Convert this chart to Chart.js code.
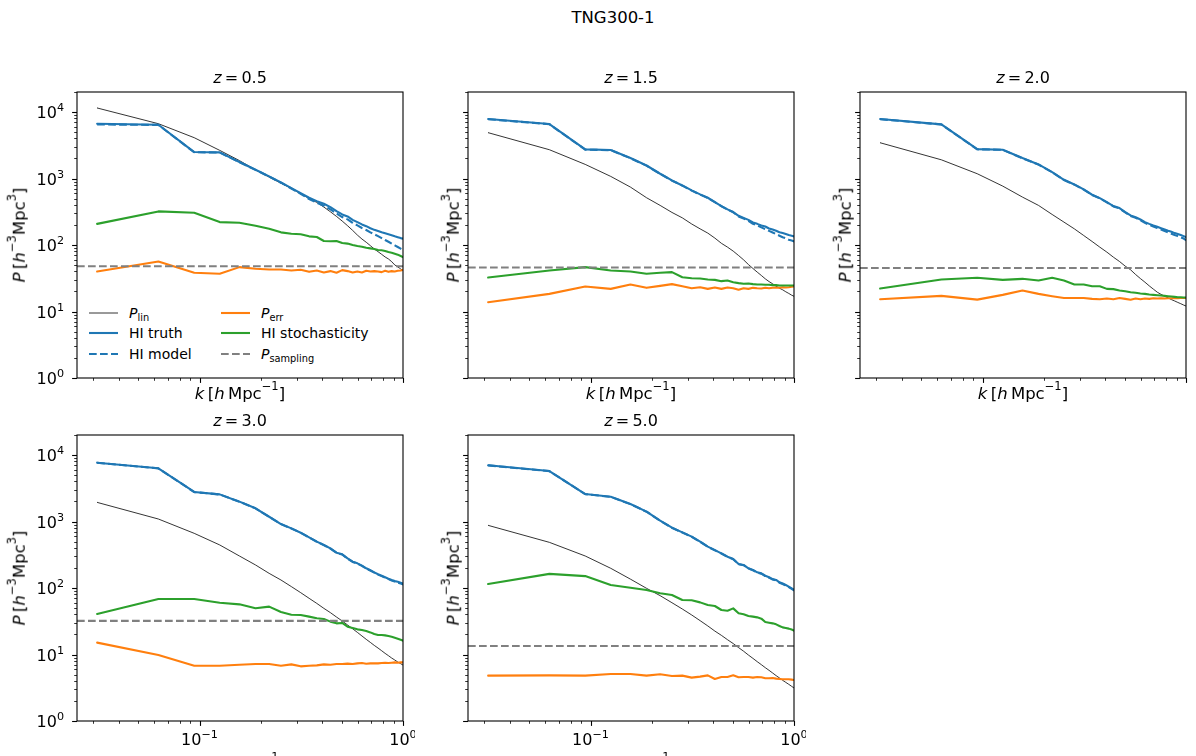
<!DOCTYPE html>
<html>
<head>
<meta charset="utf-8">
<script src="https://cdn.jsdelivr.net/npm/chart.js@4.4.1/dist/chart.umd.min.js"></script>
<style>
  body { margin: 0; width: 1196px; height: 756px; overflow: hidden; background: #fff; position: relative;
         font-family: "DejaVu Sans", sans-serif; color: #000; }
  .box { position: absolute; }
  .t { position: absolute; white-space: nowrap; font-size: 16.5px; line-height: 1; transform: translate(-50%, -50%); }
  .t.rot { transform: translate(-50%, -50%) rotate(-90deg); }
  .t.ttl { font-size: 16px; }
  sup, sub { font-size: 70%; position: relative; vertical-align: baseline; line-height: 0; }
  sup { top: -0.75em; }
  sub { top: 0.3em; }
  .leg { position: absolute; height: 16px; display: flex; align-items: center; font-size: 14px; white-space: nowrap; }
  .leg svg { margin-right: 11px; }
</style>
</head>
<body>
<div class="t" style="left:613px;top:18px">TNG300-1</div>
<div id="legend"></div>
<script>
// wavenumbers (h/Mpc), shared by all panels
const k = [0.0314, 0.0628, 0.0942, 0.1257, 0.1571, 0.1885, 0.2199, 0.2513, 0.2827, 0.3142, 0.3456,
  0.3770, 0.4084, 0.4398, 0.4712, 0.5027, 0.5341, 0.5655, 0.5969, 0.6283, 0.6597, 0.6912,
  0.7226, 0.7540, 0.7854, 0.8168, 0.8482, 0.8796, 0.9111, 0.9425, 0.9739, 1.0053];
const kEdges = [0.025, 1];
const redshifts = ["0.5", "1.5", "2.0", "3.0", "5.0"];
const sampling = [48, 46, 45, 32, 13.4];
const yTicks = ["0", "1", "2", "3", "4"];
const xTicks = ["−1", "0"];

// z = 0.5
const lin05 = [11500, 6670, 4110, 2650, 1860, 1350, 1050, 851, 708, 589, 501, 437, 372, 316, 269, 229,
  195, 166, 141, 123, 110, 97.7, 87.1, 79.4, 72.4, 66.1, 61.7, 56.2, 50.1, 46.8, 43.7, 40.7];
const truth05 = [6670, 6440, 2500, 2470, 1770, 1355, 1076, 873, 718, 604, 513, 457, 417, 372, 324, 288,
  269, 239, 221, 204, 192, 179, 169, 162, 155, 150, 145, 140, 135, 131, 127, 124];
const model05 = [6500, 6400, 2480, 2460, 1760, 1350, 1070, 865, 708, 589, 490, 432, 389, 343, 299, 263,
  243, 216, 197, 180, 168, 155, 145, 136, 127, 119, 112, 105, 98.9, 93.3, 88.1, 83.2];
const err05 = [40.0, 56.5, 38.2, 36.9, 46.5, 43.9, 42.9, 42.9, 41.4, 42.4, 39.5, 41.4, 38.6, 40.5, 38.2, 41.9,
  40.5, 38.6, 40.0, 38.6, 40.9, 40.0, 40.5, 40.0, 39.1, 40.9, 39.5, 40.5, 40.0, 40.9, 41.4, 42.4];
const stoch05 = [208, 320, 305, 221, 216, 195, 176, 155, 148, 145, 135, 132, 115, 114, 115, 107,
  105, 100, 96.6, 94.4, 91.2, 89.1, 87.1, 84.1, 83.2, 81.3, 78.5, 76.7, 74.1, 71.6, 68.4, 65.3];

// z = 1.5
const lin15 = [4890, 2710, 1630, 1076, 743, 514, 394, 309, 256, 207, 175, 151, 127, 106, 92.9, 80.9,
  69.5, 59.8, 50.9, 44.4, 39.1, 34.8, 31.0, 28.2, 26.1, 24.0, 22.4, 21.2, 19.8, 18.7, 17.6, 16.8];
const truth15 = [7850, 6590, 2740, 2680, 2030, 1570, 1180, 935, 787, 662, 577, 514, 442, 385, 343, 313,
  275, 256, 239, 218, 208, 197, 190, 177, 171, 164, 156, 151, 146, 141, 138, 134];
const model15 = [7800, 6560, 2720, 2670, 2020, 1560, 1175, 930, 783, 658, 573, 510, 440, 383, 341, 311,
  269, 250, 231, 208, 197, 184, 173, 163, 154, 146, 138, 131, 126, 120, 117, 113];
const err15 = [13.8, 18.4, 23.8, 21.9, 25.5, 22.7, 24.3, 25.8, 24.0, 22.4, 23.2, 21.9, 23.0, 21.9, 23.0, 22.4,
  21.2, 22.4, 21.9, 22.7, 22.4, 22.2, 22.7, 22.4, 22.7, 23.0, 22.7, 23.2, 23.0, 23.2, 23.5, 23.8];
const stoch15 = [32.4, 41.4, 46.5, 41.4, 40.0, 36.9, 38.2, 39.1, 32.8, 31.7, 31.3, 30.3, 29.9, 28.6, 29.2, 27.6,
  26.7, 26.1, 26.4, 25.8, 25.5, 25.5, 25.2, 25.2, 24.9, 24.9, 24.6, 24.6, 24.6, 24.6, 24.6, 24.6];

// z = 2.0
const lin20 = [3450, 1910, 1180, 769, 526, 394, 288, 221, 175, 139, 113, 92.9, 78.2, 65.6, 56.5, 48.1,
  42.4, 36.0, 31.3, 27.6, 24.3, 21.7, 19.5, 18.1, 17.0, 16.0, 15.1, 14.4, 13.7, 13.1, 12.5, 12.0];
const truth20 = [7850, 6520, 2770, 2710, 2030, 1630, 1250, 957, 815, 685, 570, 507, 442, 385, 359, 313,
  279, 262, 242, 221, 208, 197, 188, 179, 171, 164, 158, 151, 146, 141, 136, 131];
const model20 = [7800, 6500, 2750, 2700, 2020, 1620, 1245, 950, 810, 680, 566, 503, 438, 381, 355, 309,
  274, 256, 236, 215, 201, 190, 180, 171, 162, 155, 148, 141, 136, 130, 125, 117];
const err20 = [15.3, 17.2, 15.1, 17.8, 20.7, 18.4, 17.0, 16.0, 16.0, 16.0, 15.5, 15.3, 15.7, 15.3, 16.0, 15.5,
  15.0, 15.7, 15.3, 15.7, 15.5, 15.8, 15.7, 15.8, 15.7, 15.8, 15.8, 16.0, 15.8, 16.0, 16.0, 16.0];
const stoch20 = [22.2, 30.3, 32.1, 29.9, 31.0, 29.2, 32.1, 29.2, 25.5, 25.5, 24.0, 24.0, 21.9, 21.7, 20.7, 20.2,
  19.5, 19.1, 18.7, 18.4, 18.0, 17.8, 17.6, 17.4, 17.2, 17.0, 16.8, 16.6, 16.4, 16.4, 16.2, 16.2];

// z = 3.0
const lin30 = [1940, 1090, 664, 444, 303, 222, 166, 132, 105, 85.1, 70.0, 58.7, 49.4, 42.6, 36.6, 31.9,
  27.8, 24.4, 21.5, 19.0, 16.9, 15.2, 13.7, 12.5, 11.4, 10.4, 9.6, 8.85, 8.26, 7.71, 7.28, 6.87];
const truth30 = [7670, 6310, 2780, 2560, 1990, 1580, 1180, 916, 789, 679, 578, 498, 444, 394, 340, 321,
  279, 249, 235, 217, 198, 185, 172, 161, 153, 145, 138, 132, 127, 124, 120, 116];
const model30 = [7650, 6300, 2770, 2550, 1985, 1575, 1178, 914, 787, 677, 576, 496, 442, 392, 338, 319,
  277, 247, 233, 215, 196, 183, 170, 159, 151, 143, 136, 130, 125, 121, 117, 113];
const err30 = [15.1, 9.84, 6.79, 6.79, 7.03, 7.19, 7.19, 6.79, 7.11, 6.64, 6.79, 6.87, 7.11, 7.03, 7.19, 7.19,
  7.28, 7.19, 7.36, 7.45, 7.28, 7.36, 7.36, 7.36, 7.45, 7.53, 7.45, 7.53, 7.62, 7.53, 7.62, 7.62];
const stoch30 = [40.6, 68.4, 68.4, 60.1, 56.8, 49.5, 52.5, 43.6, 39.7, 39.3, 37.1, 35.0, 34.2, 31.2, 29.4, 29.8,
  26.2, 25.1, 23.9, 23.3, 22.5, 21.5, 20.3, 19.6, 19.6, 19.4, 19.0, 18.5, 17.9, 17.3, 16.7, 16.1];

// z = 5.0
const lin50 = [875, 486, 303, 198, 136, 98.9, 76.7, 60.1, 48.3, 39.3, 32.3, 26.9, 22.5, 19.4, 16.7, 14.6,
  12.7, 11.2, 9.82, 8.75, 7.80, 7.03, 6.34, 5.78, 5.27, 4.81, 4.44, 4.09, 3.81, 3.56, 3.32, 3.10];
const truth50 = [7000, 5740, 2590, 2360, 1830, 1410, 1030, 807, 687, 592, 498, 419, 372, 332, 296, 273,
  230, 222, 198, 187, 172, 166, 153, 145, 136, 132, 122, 117, 111, 105, 98.9, 93.3];
const model50 = [6980, 5720, 2580, 2350, 1825, 1405, 1027, 805, 685, 590, 496, 417, 370, 330, 294, 271,
  228, 220, 196, 185, 170, 164, 151, 143, 134, 130, 120, 115, 109, 103, 97.0, 91.0];
const err50 = [4.81, 4.86, 4.81, 5.09, 5.09, 4.81, 5.04, 4.75, 4.81, 4.49, 4.65, 4.86, 4.29, 4.59, 4.59, 4.86,
  4.54, 4.59, 4.59, 4.49, 4.59, 4.54, 4.39, 4.39, 4.44, 4.34, 4.29, 4.24, 4.24, 4.24, 4.19, 4.13];
const stoch50 = [115, 163, 151, 111, 101, 93.3, 83.2, 78.5, 66.1, 65.3, 60.8, 55.5, 53.6, 46.7, 45.6, 49.4,
  41.6, 40.2, 37.9, 37.1, 36.2, 34.6, 30.8, 30.1, 29.4, 28.4, 26.9, 25.6, 25.1, 24.5, 23.7, 22.8];

const lins = [lin05, lin15, lin20, lin30, lin50];
const truths = [truth05, truth15, truth20, truth30, truth50];
const models = [model05, model15, model20, model30, model50];
const errs = [err05, err15, err20, err30, err50];
const stochs = [stoch05, stoch15, stoch20, stoch30, stoch50];

// layout (px)
const PW = 326, PH = 286;
const lefts = [77, 468, 860, 77, 468];
const tops = [92, 92, 92, 435, 435];
const PADL = 70, PADT = 20, PADR = 12, PADB = 40;
const FONT = '"DejaVu Sans", sans-serif';

const BLUE = "#1f77b4", ORANGE = "#ff7f0e", GREEN = "#2ca02c", GREY = "#808080";
const DASH = [7.7, 3.3];

function line(label, xs, ys, color, width, dash, order) {
  return {
    label, data: xs.map((x, i) => ({ x, y: ys[i] })),
    borderColor: color, borderWidth: width, borderDash: dash || [],
    borderJoinStyle: "round", borderCapStyle: dash ? "butt" : "round",
    pointRadius: 0, tension: 0, clip: 0, order
  };
}

function powLabel(ctx, exp, x, y, align) {
  ctx.font = "16px " + FONT;
  const wb = ctx.measureText("10").width;
  ctx.font = "11.2px " + FONT;
  const we = ctx.measureText(exp).width;
  const x0 = align === "right" ? x - wb - we : x - (wb + we) / 2;
  ctx.textAlign = "left";
  ctx.textBaseline = "alphabetic";
  ctx.font = "16px " + FONT;
  ctx.fillText("10", x0, y);
  ctx.font = "11.2px " + FONT;
  ctx.fillText(exp, x0 + wb, y - 7);
}

// frame, tick marks and tick labels in matplotlib style
const axesPlugin = {
  id: "mplAxes",
  afterDraw(chart, args, opts) {
    const { ctx, chartArea: a, scales: { x, y } } = chart;
    ctx.save();
    ctx.strokeStyle = "#000";
    ctx.fillStyle = "#000";
    for (let d = 0; d <= 4; d++) {
      for (let m = 1; m <= 9; m++) {
        const v = m * Math.pow(10, d);
        if (v > y.max) continue;
        const py = Math.round(y.getPixelForValue(v)) + 0.5;
        const len = m === 1 ? 4.9 : 2.8;
        ctx.lineWidth = m === 1 ? 1.1 : 0.8;
        ctx.beginPath(); ctx.moveTo(a.left - len, py); ctx.lineTo(a.left, py); ctx.stroke();
      }
    }
    for (let d = -2; d <= 0; d++) {
      for (let m = 1; m <= 9; m++) {
        const v = m * Math.pow(10, d);
        if (v < x.min || v > x.max) continue;
        const px = Math.round(x.getPixelForValue(v)) + 0.5;
        const len = m === 1 ? 4.9 : 2.8;
        ctx.lineWidth = m === 1 ? 1.1 : 0.8;
        ctx.beginPath(); ctx.moveTo(px, a.bottom); ctx.lineTo(px, a.bottom + len); ctx.stroke();
      }
    }
    ctx.lineWidth = 1.1;
    ctx.strokeRect(a.left, a.top, a.right - a.left, a.bottom - a.top);
    if (opts.yLabels) {
      yTicks.forEach((e) => powLabel(ctx, e, a.left - 13, y.getPixelForValue(Math.pow(10, +e)) + 6.3, "right"));
    }
    if (opts.xLabels) {
      xTicks.forEach((e) => powLabel(ctx, e, x.getPixelForValue(Math.pow(10, +e.replace("−", "-"))), a.bottom + 24, "center"));
    }
    ctx.restore();
  }
};

function addText(html, cx, cy, cls) {
  const d = document.createElement("div");
  d.className = "t" + (cls ? " " + cls : "");
  d.style.left = cx + "px";
  d.style.top = cy + "px";
  d.innerHTML = html;
  document.body.appendChild(d);
}

const yLabelHtml = "<i>P</i>&thinsp;[<i>h</i><sup>−3</sup>Mpc<sup>3</sup>]";
const xLabelHtml = "<i>k</i>&thinsp;[<i>h</i>&thinsp;Mpc<sup>−1</sup>]";

redshifts.forEach((z, i) => {
  const L = lefts[i], T = tops[i];
  const box = document.createElement("div");
  box.className = "box";
  box.style.left = (L - PADL) + "px";
  box.style.top = (T - PADT) + "px";
  box.style.width = (PW + PADL + PADR) + "px";
  box.style.height = (PH + PADT + PADB) + "px";
  const cv = document.createElement("canvas");
  box.appendChild(cv);
  document.body.appendChild(box);

  const firstCol = i === 0 || i === 3;

  new Chart(cv, {
    type: "line",
    data: {
      datasets: [
        line("P_lin", k, lins[i], "#000", 0.8, null, 6),
        line("HI truth", k, truths[i], BLUE, 2.1, null, 5),
        line("HI model", k, models[i], BLUE, 2.1, DASH, 4),
        line("P_err", k, errs[i], ORANGE, 2.1, null, 3),
        line("HI stochasticity", k, stochs[i], GREEN, 2.1, null, 2),
        line("P_sampling", kEdges, [sampling[i], sampling[i]], GREY, 2.1, DASH, 1)
      ]
    },
    options: {
      responsive: true,
      maintainAspectRatio: false,
      animation: false,
      events: [],
      layout: { padding: { left: 0, top: PADT, right: PADR, bottom: 0 } },
      plugins: {
        legend: { display: false },
        tooltip: { enabled: false },
        mplAxes: { yLabels: firstCol, xLabels: i >= 3 }
      },
      scales: {
        x: {
          type: "logarithmic", min: 0.025, max: 1,
          ticks: { display: false }, grid: { display: false }, border: { display: false },
          afterFit: (s) => { s.height = PADB; }
        },
        y: {
          type: "logarithmic", min: 1, max: 20000,
          ticks: { display: false }, grid: { display: false }, border: { display: false },
          afterFit: (s) => { s.width = PADL; }
        }
      }
    },
    plugins: [axesPlugin]
  });

  addText("<i>z</i>&thinsp;=&thinsp;" + z, L + PW / 2, T - 14, "ttl");
  addText(yLabelHtml, firstCol ? 20 : L - 14, T + PH / 2, "rot");
  addText(xLabelHtml, L + PW / 2, T + PH + (i >= 3 ? 44 : 16));
});

// legend inside the first panel
const legendItems = [
  { html: "<i>P</i><sub>lin</sub>", color: "#000", w: 0.8, dash: false, x: 89, y: 313 },
  { html: "HI truth", color: BLUE, w: 2.1, dash: false, x: 89, y: 333 },
  { html: "HI model", color: BLUE, w: 2.1, dash: true, x: 89, y: 354 },
  { html: "<i>P</i><sub>err</sub>", color: ORANGE, w: 2.1, dash: false, x: 221, y: 313 },
  { html: "HI stochasticity", color: GREEN, w: 2.1, dash: false, x: 221, y: 333 },
  { html: "<i>P</i><sub>sampling</sub>", color: GREY, w: 2.1, dash: true, x: 221, y: 354 }
];
const legend = document.getElementById("legend");
legendItems.forEach((it) => {
  const d = document.createElement("div");
  d.className = "leg";
  d.style.left = it.x + "px";
  d.style.top = (it.y - 8) + "px";
  d.innerHTML = '<svg width="29" height="6"><line x1="0" y1="3" x2="29" y2="3" stroke="' + it.color +
    '" stroke-width="' + it.w + '"' + (it.dash ? ' stroke-dasharray="7.7 3.3"' : "") + "/></svg><span>" + it.html + "</span>";
  legend.appendChild(d);
});
</script>
</body>
</html>
